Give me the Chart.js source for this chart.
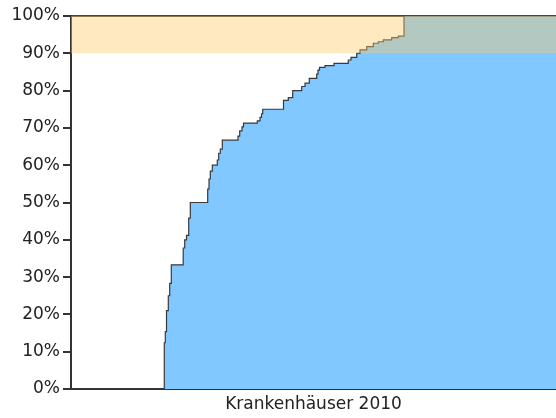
<!DOCTYPE html>
<html>
<head>
  <meta charset="utf-8">
  <title>Krankenhäuser 2010</title>
  <script src="https://cdn.jsdelivr.net/npm/chart.js"></script>
  <style>
    html, body { margin: 0; padding: 0; background: #fff; }
    #wrap { width: 556px; height: 418px; }
  </style>
</head>
<body>
  <div id="wrap"><canvas id="chart" width="556" height="418"></canvas></div>

  <script>
    // cumulative share of hospitals (step curve), x in horizontal units 0..485
    const stepX = [0, 93.3, 94.3, 95.5, 97.3, 98.7, 100.3,
      112.2, 113.7, 115.5, 117.7, 119.3,
      136.7, 138, 139.3, 141.3,
      146.3, 147.7, 149.3, 151.3,
      167, 168.7, 171, 172.5,
      186.3, 189, 190.5, 191.7,
      212.5, 217.3, 221.7,
      230.7, 234,
      238.3, 245.7, 247, 248.5, 254, 263,
      277.3, 280, 285.7, 289, 295.7, 302.3, 307.3, 312.3, 320.7, 327.3, 333, 485];
    const shares = [0, 12.4, 15.4, 21.0, 25.0, 28.3, 33.3,
      37.8, 40.0, 41.2, 45.8, 50.0,
      53.6, 56.3, 58.4, 60.0,
      61.4, 63.2, 64.3, 66.7,
      67.8, 69.2, 70.3, 71.3,
      71.9, 72.8, 73.8, 75.0,
      77.4, 78.1, 80.0,
      81.1, 82.0,
      83.3, 84.4, 85.5, 86.2, 86.7, 87.3,
      88.2, 88.9, 90.0, 90.9, 91.8, 92.7, 93.1, 93.6, 94.2, 94.6, 100, 100];

    // target band 90%..100%
    const bandX = [0, 485];
    const bandTop = [100, 100];
    const bandBase = 90;

    const yTicks = [0, 10, 20, 30, 40, 50, 60, 70, 80, 90, 100];
    const xTitle = 'Krankenhäuser 2010';

    const font = { family: 'DejaVu Sans', size: 17 };

    new Chart(document.getElementById('chart'), {
      type: 'line',
      data: {
        datasets: [
          {
            data: bandX.map((x, i) => ({ x: x, y: bandTop[i] })),
            borderWidth: 0,
            pointRadius: 0,
            fill: { value: bandBase },
            backgroundColor: 'rgba(255,200,100,0.4)',
            order: 0
          },
          {
            data: stepX.map((x, i) => ({ x: x, y: shares[i] })),
            stepped: 'before',
            borderColor: '#3a3a3a',
            borderWidth: 1.2,
            pointRadius: 0,
            fill: 'origin',
            backgroundColor: 'rgb(128,200,255)',
            order: 1
          }
        ]
      },
      options: {
        responsive: false,
        animation: false,
        layout: { padding: { top: 16, right: 0, bottom: 0, left: 0 } },
        plugins: { legend: { display: false }, tooltip: { enabled: false } },
        scales: {
          x: {
            type: 'linear',
            min: 0,
            max: 485,
            ticks: { display: false },
            grid: { display: false, drawTicks: false },
            border: { display: true, color: '#333', width: 2 },
            title: { display: true, text: xTitle, color: '#222', font: font, padding: { top: 4, bottom: 3 } },
            afterFit: s => { s.height = 29; }
          },
          y: {
            min: 0,
            max: 100,
            afterBuildTicks: s => { s.ticks = yTicks.map(v => ({ value: v })); },
            ticks: { color: '#222', font: font, padding: 3, callback: v => v + '%' },
            grid: {
              color: ctx => ctx.tick && ctx.tick.value === 100 ? '#444' : 'rgba(0,0,0,0)',
              lineWidth: 2,
              tickColor: '#333',
              tickLength: 8
            },
            border: { display: true, color: '#333', width: 2 },
            afterFit: s => { s.width = 71; }
          }
        }
      }
    });
  </script>
</body>
</html>
